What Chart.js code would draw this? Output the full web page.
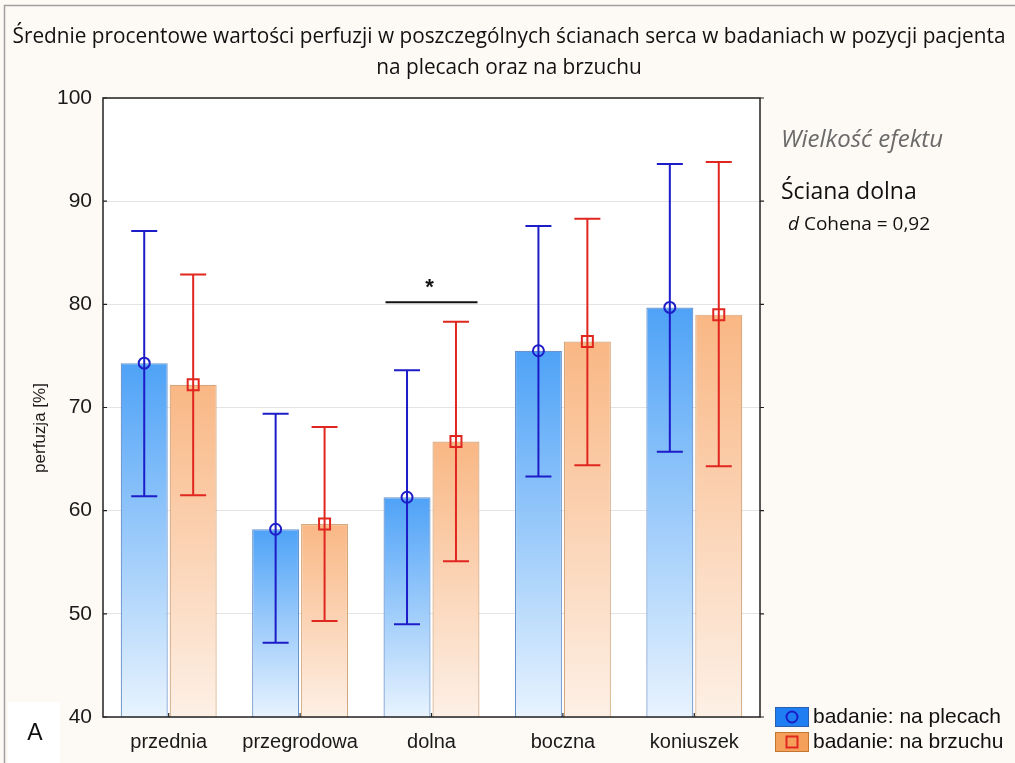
<!DOCTYPE html>
<html>
<head>
<meta charset="utf-8">
<script src="https://cdn.jsdelivr.net/npm/chart.js@4.4.1/dist/chart.umd.min.js"></script>
<style>
  html, body { margin: 0; padding: 0; background: #fdfaf5; }
  #wrap { position: relative; width: 1015px; height: 763px; }
  canvas { display: block; }
</style>
</head>
<body>
<div id="wrap"><canvas id="c" width="1015" height="763"></canvas></div>
<script>
// Mean perfusion per heart wall, with whisker limits, for both patient positions
const categories = ['przednia', 'przegrodowa', 'dolna', 'boczna', 'koniuszek'];
const seriesNames = ['badanie: na plecach', 'badanie: na brzuchu'];
const meanBack  = [74.3, 58.2, 61.3, 75.5, 79.7];
const lowBack   = [61.4, 47.2, 49.0, 63.3, 65.7];
const highBack  = [87.1, 69.4, 73.6, 87.6, 93.6];
const meanBelly = [72.2, 58.7, 66.7, 76.4, 79.0];
const lowBelly  = [61.5, 49.3, 55.1, 64.4, 64.3];
const highBelly = [82.9, 68.1, 78.3, 88.3, 93.8];
const yTicks = [40, 50, 60, 70, 80, 90, 100];
const yAxisTitle = 'perfuzja [%]';

// significance bracket over the inferior wall
const sigCategory = 'dolna';
const sigLevel = 80.2;
const sigMark = '*';

const titleLines = [
  'Średnie procentowe wartości perfuzji w poszczególnych ścianach serca w badaniach w pozycji pacjenta',
  'na plecach oraz na brzuchu'
];
const effectHeader = 'Wielkość efektu';
const effectWall = 'Ściana dolna';
const effectValue = '0,92';
const panelLetter = 'A';

const SANS = '"Liberation Sans", Arial, sans-serif';
const HUMAN = '"Open Sans", "Noto Sans", sans-serif';

const errStyle = [
  { color: '#1c1cc8', marker: 'circle' },
  { color: '#e0261f', marker: 'rect' }
];
const errLow = [lowBack, lowBelly];
const errHigh = [highBack, highBelly];

function barFill(top, bottom) {
  return (ctx) => {
    const ch = ctx.chart;
    const area = ch.chartArea;
    if (!area || ctx.type !== 'data' || !ch.scales.y) return top;
    const y0 = ch.scales.y.getPixelForValue(ctx.raw);
    const g = ch.ctx.createLinearGradient(0, y0, 0, area.bottom);
    g.addColorStop(0, top);
    g.addColorStop(1, bottom);
    return g;
  };
}

function drawMarker(ctx, kind, x, y, color) {
  ctx.save();
  ctx.strokeStyle = color;
  ctx.lineWidth = 2;
  ctx.beginPath();
  if (kind === 'circle') {
    ctx.arc(x, y, 5.5, 0, Math.PI * 2);
  } else {
    ctx.rect(x - 5.5, y - 5.5, 11, 11);
  }
  ctx.stroke();
  ctx.restore();
}

// narrow humanist text: draw with a horizontal squeeze to the wanted width
function fillSqueezed(ctx, text, cx, cy, scale) {
  ctx.save();
  ctx.translate(cx, cy);
  ctx.scale(scale, 1);
  ctx.fillText(text, 0, 0);
  ctx.restore();
}

const backdrop = {
  id: 'backdrop',
  beforeDraw(chart) {
    const { ctx, chartArea: a, width, height } = chart;
    ctx.save();
    ctx.fillStyle = '#fdfaf5';
    ctx.fillRect(0, 0, width, height);
    ctx.strokeStyle = '#a0a0a0';
    ctx.lineWidth = 1.5;
    ctx.beginPath();
    ctx.moveTo(4.5, height);
    ctx.lineTo(4.5, 5.5);
    ctx.lineTo(width, 5.5);
    ctx.stroke();
    ctx.fillStyle = '#ffffff';
    ctx.fillRect(a.left, a.top, a.right - a.left, a.bottom - a.top);
    ctx.restore();
  }
};

const errorBars = {
  id: 'errorBars',
  afterDatasetsDraw(chart) {
    const { ctx } = chart;
    const ys = chart.scales.y;
    chart.data.datasets.forEach((ds, i) => {
      const meta = chart.getDatasetMeta(i);
      const st = errStyle[i];
      meta.data.forEach((el, j) => {
        const x = el.x;
        const yh = ys.getPixelForValue(errHigh[i][j]);
        const yl = ys.getPixelForValue(errLow[i][j]);
        ctx.save();
        ctx.strokeStyle = st.color;
        ctx.lineWidth = 2;
        ctx.beginPath();
        ctx.moveTo(x, yh); ctx.lineTo(x, yl);
        ctx.moveTo(x - 13, yh); ctx.lineTo(x + 13, yh);
        ctx.moveTo(x - 13, yl); ctx.lineTo(x + 13, yl);
        ctx.stroke();
        ctx.restore();
        drawMarker(ctx, st.marker, x, ys.getPixelForValue(ds.data[j]), st.color);
      });
    });
  }
};

const decorations = {
  id: 'decorations',
  afterDraw(chart) {
    const { ctx, chartArea: a } = chart;
    const xs = chart.scales.x, ys = chart.scales.y;
    ctx.save();

    // plot frame
    ctx.strokeStyle = '#222';
    ctx.lineWidth = 1.5;
    ctx.strokeRect(a.left, a.top, a.right - a.left, a.bottom - a.top);

    // tick marks: inside on left/bottom, outside on right
    ctx.lineWidth = 1.2;
    ctx.beginPath();
    yTicks.forEach(v => {
      const y = ys.getPixelForValue(v);
      ctx.moveTo(a.left, y); ctx.lineTo(a.left + 4, y);
      ctx.moveTo(a.right, y); ctx.lineTo(a.right + 4, y);
    });
    categories.forEach((c, i) => {
      const x = xs.getPixelForValue(i);
      ctx.moveTo(x, a.bottom); ctx.lineTo(x, a.bottom - 4);
    });
    ctx.stroke();

    // y axis title
    ctx.fillStyle = '#1a1a1a';
    ctx.font = '17px ' + SANS;
    ctx.textAlign = 'center';
    ctx.textBaseline = 'middle';
    ctx.save();
    ctx.translate(40, 428);
    ctx.rotate(-Math.PI / 2);
    ctx.fillText(yAxisTitle, 0, 0);
    ctx.restore();

    // title
    ctx.fillStyle = '#111';
    ctx.font = '21px ' + HUMAN;
    const squeeze = 993 / ctx.measureText(titleLines[0]).width;
    fillSqueezed(ctx, titleLines[0], 509, 37, squeeze);
    fillSqueezed(ctx, titleLines[1], 509, 68, squeeze);

    // significance bracket
    const ci = categories.indexOf(sigCategory);
    const cx = xs.getPixelForValue(ci);
    const sy = ys.getPixelForValue(sigLevel);
    ctx.strokeStyle = '#111';
    ctx.lineWidth = 2;
    ctx.beginPath();
    ctx.moveTo(cx - 46, sy); ctx.lineTo(cx + 46, sy);
    ctx.stroke();
    ctx.font = 'bold 22px ' + SANS;
    ctx.fillText(sigMark, cx - 2, sy - 14);

    // effect size note
    ctx.textAlign = 'left';
    ctx.textBaseline = 'alphabetic';
    ctx.fillStyle = '#6a6a6a';
    ctx.font = 'italic 24px ' + HUMAN;
    ctx.fillText(effectHeader, 781, 147);
    ctx.fillStyle = '#111';
    ctx.font = '23px ' + HUMAN;
    ctx.fillText(effectWall, 781, 199);
    ctx.font = 'italic 19px ' + HUMAN;
    ctx.fillText('d', 788, 230);
    const dw = ctx.measureText('d ').width;
    ctx.font = '19px ' + HUMAN;
    ctx.fillText('Cohena = ' + effectValue, 788 + dw, 230);

    // legend
    const legendRows = [
      { fill: '#1f7ff2', edge: '#2a5fb0', y: 707 },
      { fill: '#f4a05a', edge: '#c2762f', y: 732 }
    ];
    legendRows.forEach((r, i) => {
      ctx.fillStyle = r.fill;
      ctx.fillRect(775, r.y, 34, 20);
      ctx.strokeStyle = r.edge;
      ctx.lineWidth = 1;
      ctx.strokeRect(775.5, r.y + 0.5, 33, 19);
      drawMarker(ctx, errStyle[i].marker, 792, r.y + 10, errStyle[i].color);
      ctx.fillStyle = '#111';
      ctx.font = '21px ' + SANS;
      ctx.textBaseline = 'middle';
      ctx.fillText(seriesNames[i], 813, r.y + 10);
    });

    // panel letter
    ctx.fillStyle = '#ffffff';
    ctx.fillRect(8, 702, 52, 61);
    ctx.fillStyle = '#111';
    ctx.font = '23px ' + SANS;
    ctx.textAlign = 'center';
    ctx.textBaseline = 'middle';
    ctx.fillText(panelLetter, 35, 734);

    ctx.restore();
  }
};

new Chart(document.getElementById('c'), {
  type: 'bar',
  data: {
    labels: categories,
    datasets: [
      {
        label: seriesNames[0],
        data: meanBack,
        backgroundColor: barFill('#4ea2f7', '#e8f3fe'),
        borderColor: '#6a92cc',
        borderWidth: 1.2,
        borderSkipped: false,
        categoryPercentage: 0.745,
        barPercentage: 0.96
      },
      {
        label: seriesNames[1],
        data: meanBelly,
        backgroundColor: barFill('#f9b784', '#fdf0e6'),
        borderColor: '#d3a67d',
        borderWidth: 1.2,
        borderSkipped: false,
        categoryPercentage: 0.745,
        barPercentage: 0.96
      }
    ]
  },
  options: {
    responsive: false,
    animation: false,
    devicePixelRatio: 1,
    layout: { padding: { left: 0, right: 255, top: 98, bottom: 0 } },
    plugins: {
      legend: { display: false },
      title: { display: false },
      tooltip: { enabled: false }
    },
    scales: {
      x: {
        grid: { display: false, drawTicks: false },
        border: { display: false },
        ticks: { color: '#1a1a1a', font: { family: SANS, size: 20 }, padding: 13 },
        afterFit(s) { s.height = 46; }
      },
      y: {
        min: 40,
        max: 100,
        afterBuildTicks(s) { s.ticks = yTicks.map(v => ({ value: v })); },
        grid: { color: '#e4e4e4', lineWidth: 1, drawTicks: false },
        border: { display: false },
        ticks: { color: '#1a1a1a', font: { family: SANS, size: 21 }, padding: 11 },
        afterFit(s) { s.width = 103; }
      }
    }
  },
  plugins: [backdrop, errorBars, decorations]
});
</script>
</body>
</html>
